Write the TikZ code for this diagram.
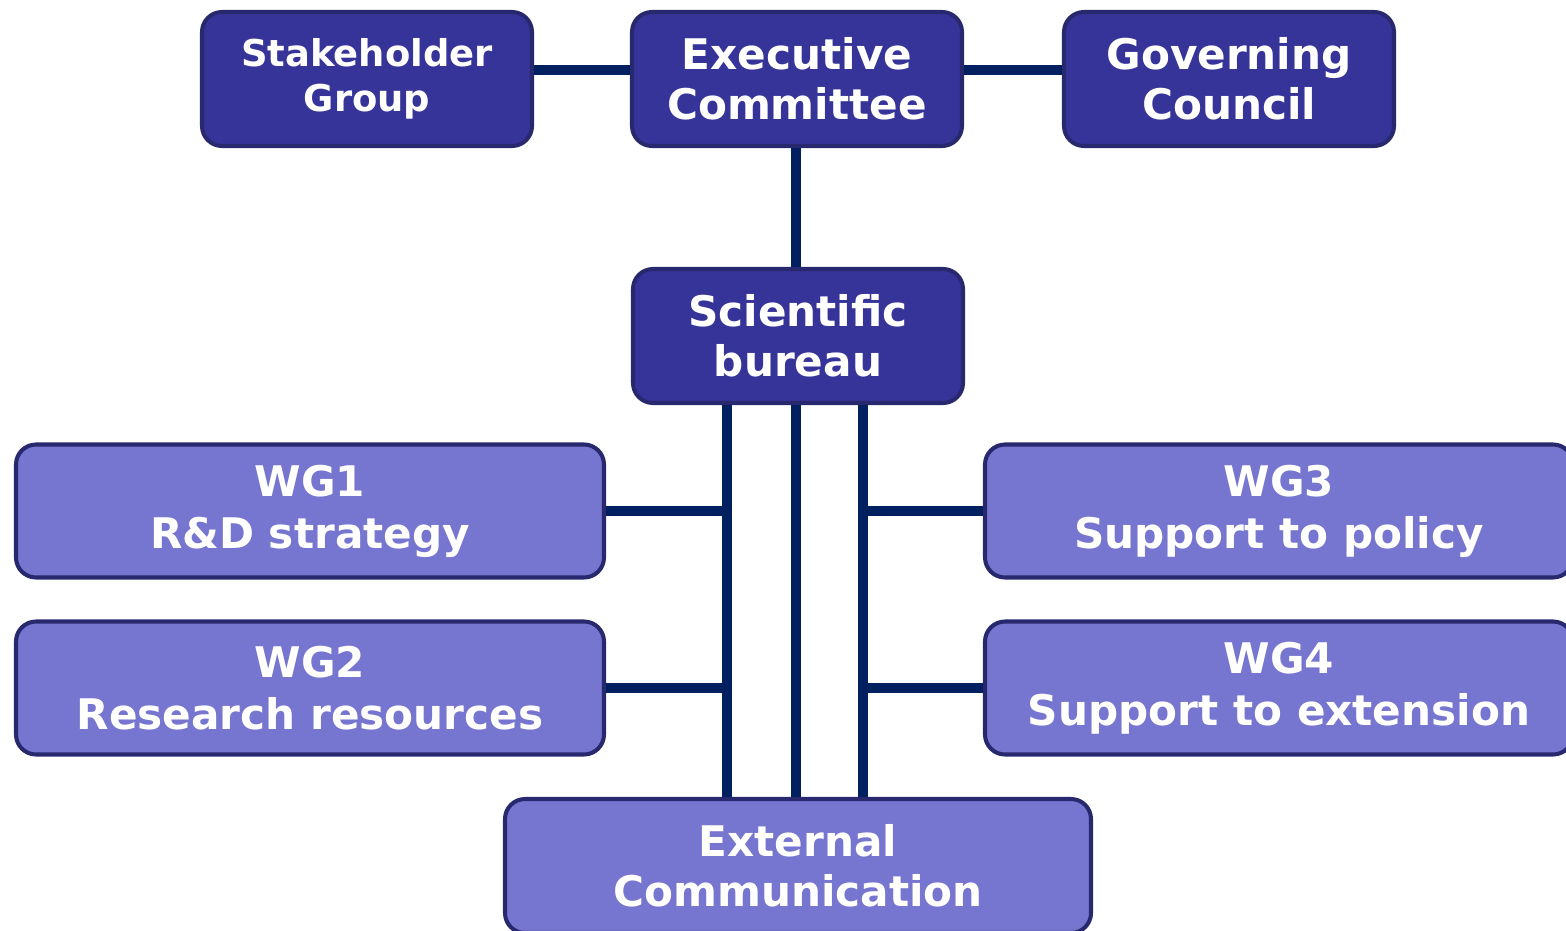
\documentclass[tikz,border=0pt]{standalone}
\usepackage{fontspec}
\setmainfont{DejaVu Sans}
\definecolor{darkbox}{HTML}{363499}
\definecolor{lightbox}{HTML}{7675CF}
\definecolor{boxline}{HTML}{28286E}
\definecolor{linkline}{HTML}{002060}
\begin{document}
\begin{tikzpicture}[
    box/.style={draw=boxline, line width=2.3pt, rounded corners=0.4cm, text=white, align=center, font=\bfseries\fontsize{24}{28.5}\selectfont},
    topbox/.style={box, fill=darkbox, minimum width=6.6cm, minimum height=2.68cm},
    wgbox/.style={box, fill=lightbox, minimum width=11.76cm, minimum height=2.66cm, font=\bfseries\fontsize{24}{29.5}\selectfont},
    link/.style={draw=linkline, line width=5.7pt}
]
    \useasboundingbox (0,0) rectangle (31.32,-18.62);
    \clip (0,0) rectangle (31.32,-18.62);

    \node[topbox, font=\bfseries\fontsize{21}{25.5}\selectfont] (stake) at (7.34,-1.58) {Stakeholder\\Group};
    \node[topbox] (exec) at (15.94,-1.58) {Executive\\Committee};
    \node[topbox] (gov) at (24.58,-1.58) {Governing\\Council};
    \node[topbox] (sci) at (15.96,-6.72) {Scientific\\bureau};

    \node[wgbox] (wg1) at (6.2,-10.22) {WG1\\R\&D strategy};
    \node[wgbox] (wg2) at (6.2,-13.76) {WG2\\Research resources};
    \node[wgbox] (wg3) at (25.58,-10.22) {WG3\\Support to policy};
    \node[wgbox] (wg4) at (25.58,-13.76) {WG4\\Support to extension};
    \node[wgbox, minimum width=11.72cm, minimum height=2.68cm, font=\bfseries\fontsize{24}{28.5}\selectfont] (ext) at (15.96,-17.32) {External\\Communication};

    % three lines down from the bureau
    \coordinate (lv) at (14.54,0);
    \coordinate (mv) at (15.92,0);
    \coordinate (rv) at (17.26,0);

    \draw[link] ([yshift=0.18cm]stake.east) -- ([yshift=0.18cm]exec.west);
    \draw[link] ([yshift=0.18cm]exec.east) -- ([yshift=0.18cm]gov.west);
    \draw[link] (exec.south -| mv) -- (sci.north -| mv);
    \draw[link] (sci.south -| lv) -- (ext.north -| lv);
    \draw[link] (sci.south -| mv) -- (ext.north -| mv);
    \draw[link] (sci.south -| rv) -- (ext.north -| rv);
    \draw[link] (wg1.east) -- (wg1.east -| lv);
    \draw[link] (wg2.east) -- (wg2.east -| lv);
    \draw[link] (wg3.west) -- (wg3.west -| rv);
    \draw[link] (wg4.west) -- (wg4.west -| rv);
\end{tikzpicture}
\end{document}
